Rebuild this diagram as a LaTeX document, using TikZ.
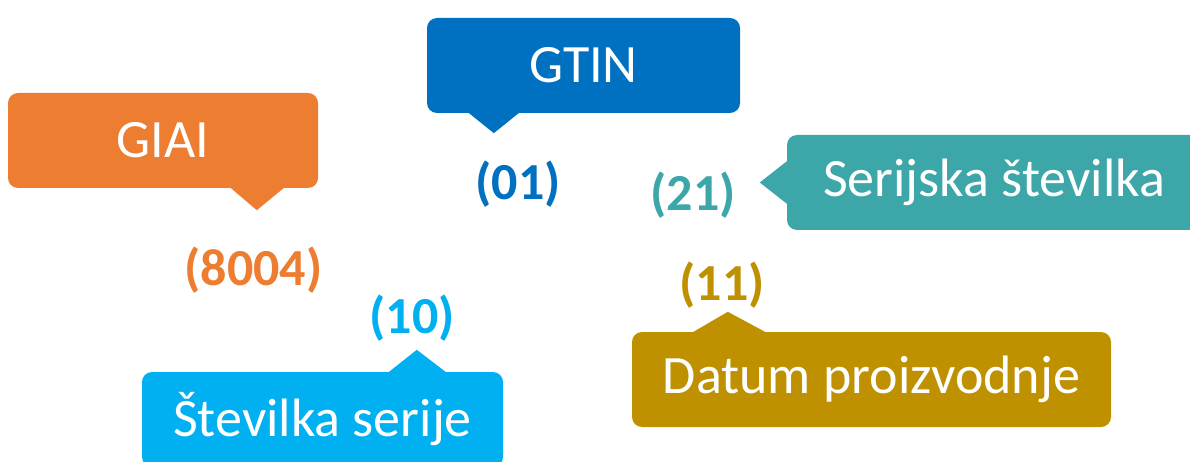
\documentclass[tikz,border=0pt]{standalone}
\usepackage{fontspec}
\setmainfont{Carlito}
\definecolor{cOrange}{HTML}{ED7D31}
\definecolor{cBlue}{HTML}{0070C0}
\definecolor{cTeal}{HTML}{3CA6A8}
\definecolor{cSky}{HTML}{00B0F0}
\definecolor{cGold}{HTML}{BF9000}
\begin{document}
\begin{tikzpicture}[x=1pt,y=-1pt,
  callout/.style={fill=#1, rounded corners=10pt, inner sep=0pt, text=white,
    font=\fontsize{54}{58}\selectfont, minimum height=95pt},
  code/.style={text=#1, inner sep=0pt, font=\bfseries\fontsize{52}{56}\selectfont}]
\useasboundingbox (0,0) rectangle (1190,462);
% boxes
\node[callout=cOrange, minimum width=310pt] (giai) at (163,140.5) {GIAI};
\node[callout=cBlue, minimum width=313pt] (gtin) at (583.5,65.5) {GTIN};
\node[callout=cTeal, minimum width=414pt] (ser) at (994,182.5) {Serijska številka};
\node[callout=cSky, minimum width=361pt] (sts) at (322.5,419.5) {Številka serije};
\node[callout=cGold, minimum width=479pt] (dat) at (871.5,379.5) {Datum proizvodnje};
% pointers
\fill[cOrange] (giai.south west) ++(222,-1) -- ++(27,23) -- ++(28,-23) -- cycle;
\fill[cBlue] (gtin.south west) ++(41,-1) -- ++(26,21) -- ++(26,-21) -- cycle;
\fill[cTeal] (ser.west) ++(1,-22) -- ++(-28,22) -- ++(28,22) -- cycle;
\fill[cSky] (sts.north west) ++(246,1) -- ++(29,-23) -- ++(30,23) -- cycle;
\fill[cGold] (dat.north west) ++(60,1) -- ++(36,-21) -- ++(39,21) -- cycle;
% labels
\node[code=cOrange] (l8004) at (253.5,270) {(8004)};
\node[code=cBlue] (l01) at (518,184) {(01)};
\node[code=cTeal] (l21) at (693,195) {(21)};
\node[code=cSky] (l10) at (412,318) {(10)};
\node[code=cGold] (l11) at (722,285) {(11)};
\end{tikzpicture}
\end{document}
